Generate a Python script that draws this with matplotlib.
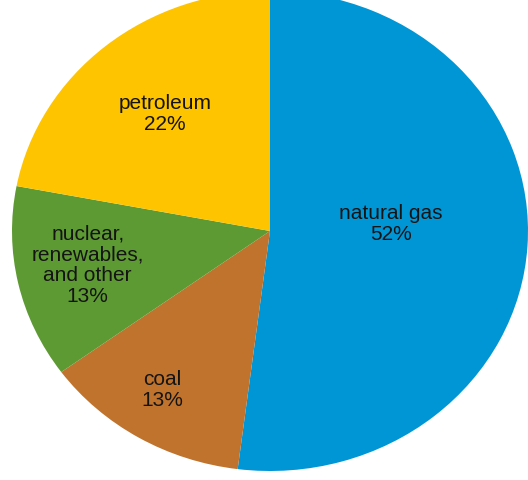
import numpy as np
import matplotlib
matplotlib.use("Agg")
import matplotlib.pyplot as plt

# Data (clockwise from 12 o'clock)
sources = ["natural gas", "coal", "nuclear,\nrenewables,\nand other", "petroleum"]
shares = [52, 13, 13, 22]
colors = ["#0096d6", "#c0732c", "#5e9a33", "#ffc400"]
# label placement: radial distance and small angle nudge (deg) from wedge middle
label_dist = [0.47, 0.78, 0.72, 0.64]
label_nudge = [7.6, -1.7, -1.6, 0.0]

plt.rcParams['font.family'] = ['Liberation Sans', 'DejaVu Sans']

fig = plt.figure(figsize=(5.28, 4.81), dpi=100)
ax = fig.add_axes([0, 0, 1, 1])

wedges, _ = ax.pie(shares, colors=colors, startangle=90, counterclock=False,
                   wedgeprops=dict(linewidth=0))

# labels inside each wedge
for w, name, share, d, nudge in zip(wedges, sources, shares, label_dist, label_nudge):
    mid = np.deg2rad((w.theta1 + w.theta2) / 2 + nudge)
    ax.text(d * np.cos(mid), d * np.sin(mid), f"{name}\n{share}%",
            ha='center', va='center', fontsize=15, color='#141414',
            linespacing=1.12)

# pie is slightly stretched horizontally and clipped at top/right
ax.set_aspect('auto')
ax.set_xlim(-1.0465, 1.0)
ax.set_ylim(-1.0375, 0.9667)
ax.axis('off')

fig.savefig("out.png", dpi=100)
